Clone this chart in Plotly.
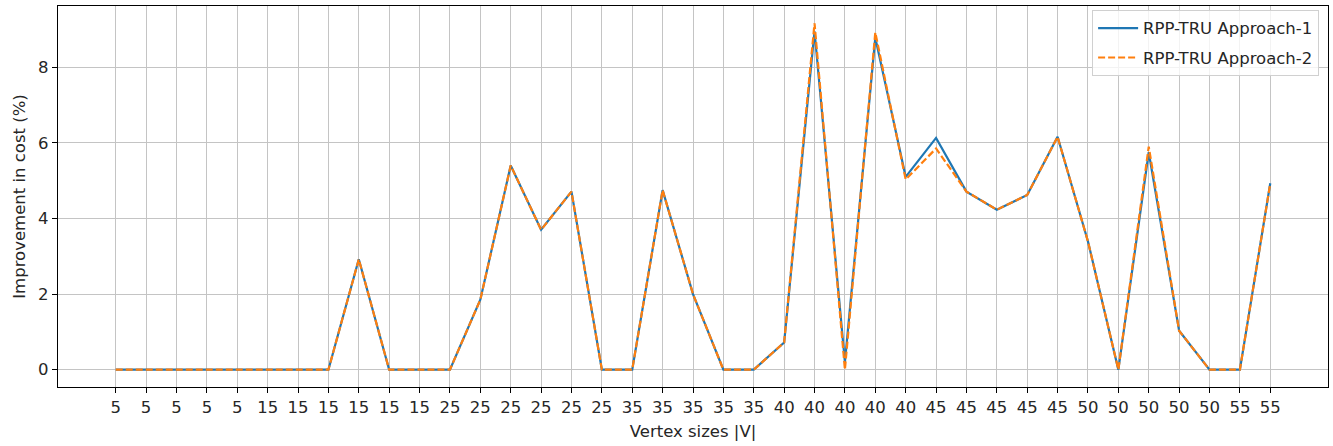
import plotly.graph_objects as go

vertex_labels = ["5", "5", "5", "5", "5",
                 "15", "15", "15", "15", "15", "15",
                 "25", "25", "25", "25", "25", "25",
                 "35", "35", "35", "35", "35",
                 "40", "40", "40", "40", "40",
                 "45", "45", "45", "45", "45",
                 "50", "50", "50", "50", "50",
                 "55", "55"]

approach1 = [0, 0, 0, 0, 0, 0, 0, 0, 2.92, 0, 0, 0, 1.85, 5.4, 3.7, 4.71, 0,
             0, 4.75, 2.0, 0, 0, 0.72, 8.95, 0.2, 8.78, 5.1, 6.13, 4.71, 4.23,
             4.62, 6.16, 3.39, 0, 5.75, 1.03, 0, 0, 4.93]

approach2 = [0, 0, 0, 0, 0, 0, 0, 0, 2.92, 0, 0, 0, 1.85, 5.4, 3.7, 4.71, 0,
             0, 4.75, 2.0, 0, 0, 0.72, 9.16, 0, 8.92, 5.03, 5.85, 4.71, 4.23,
             4.62, 6.16, 3.39, 0, 5.9, 1.03, 0, 0, 4.93]

x_idx = list(range(len(vertex_labels)))
font_family = "DejaVu Sans, sans-serif"
txt = "#262626"
fs = 16.5

fig = go.Figure()
fig.add_trace(go.Scatter(x=x_idx, y=approach1, mode="lines", name="RPP-TRU Approach-1",
                         legendgroup="a1",
                         line=dict(color="#1f77b4", width=2.2)))
fig.add_trace(go.Scatter(x=x_idx, y=approach2, mode="lines", name="RPP-TRU Approach-2",
                         legendgroup="a2",
                         line=dict(color="#ff7f0e", width=2.2, dash="7px,3px")))

n = len(vertex_labels)
pad_x = 0.05 * (n - 1)
ymax = max(max(approach1), max(approach2))
pad_y = 0.05 * ymax

fig.update_layout(
    width=1333, height=446,
    margin=dict(l=58, r=5, t=6, b=59, autoexpand=False),
    paper_bgcolor="white", plot_bgcolor="white",
    font=dict(family=font_family, size=fs, color=txt),
    showlegend=True,
    legend=dict(x=0.993, y=0.99, xanchor="right", yanchor="top",
                bgcolor="rgba(255,255,255,0.8)", bordercolor="#d0d0d0", borderwidth=1,
                font=dict(size=fs, color=txt), traceorder="grouped", tracegroupgap=5,
                itemwidth=40),
    xaxis=dict(
        range=[-pad_x, n - 1 + pad_x],
        tickmode="array", tickvals=x_idx, ticktext=vertex_labels,
        showgrid=True, gridcolor="#c4c4c4", gridwidth=1.2,
        showline=True, linecolor="black", linewidth=1.2, mirror=True,
        ticks="outside", ticklen=5, tickcolor="black",
        zeroline=False,
        title=dict(text="Vertex sizes |V|", font=dict(size=fs, color=txt), standoff=9),
    ),
    yaxis=dict(
        range=[-pad_y, ymax + pad_y],
        tickmode="array", tickvals=[0, 2, 4, 6, 8],
        showgrid=True, gridcolor="#c4c4c4", gridwidth=1.2,
        showline=True, linecolor="black", linewidth=1.2, mirror=True,
        ticks="outside", ticklen=5, tickcolor="black",
        zeroline=False,
        title=dict(text="Improvement in cost (%)", font=dict(size=fs, color=txt), standoff=8),
    ),
)

fig.write_html("out.html", config={"displayModeBar": False},
               post_script="document.body.style.margin='0';")
